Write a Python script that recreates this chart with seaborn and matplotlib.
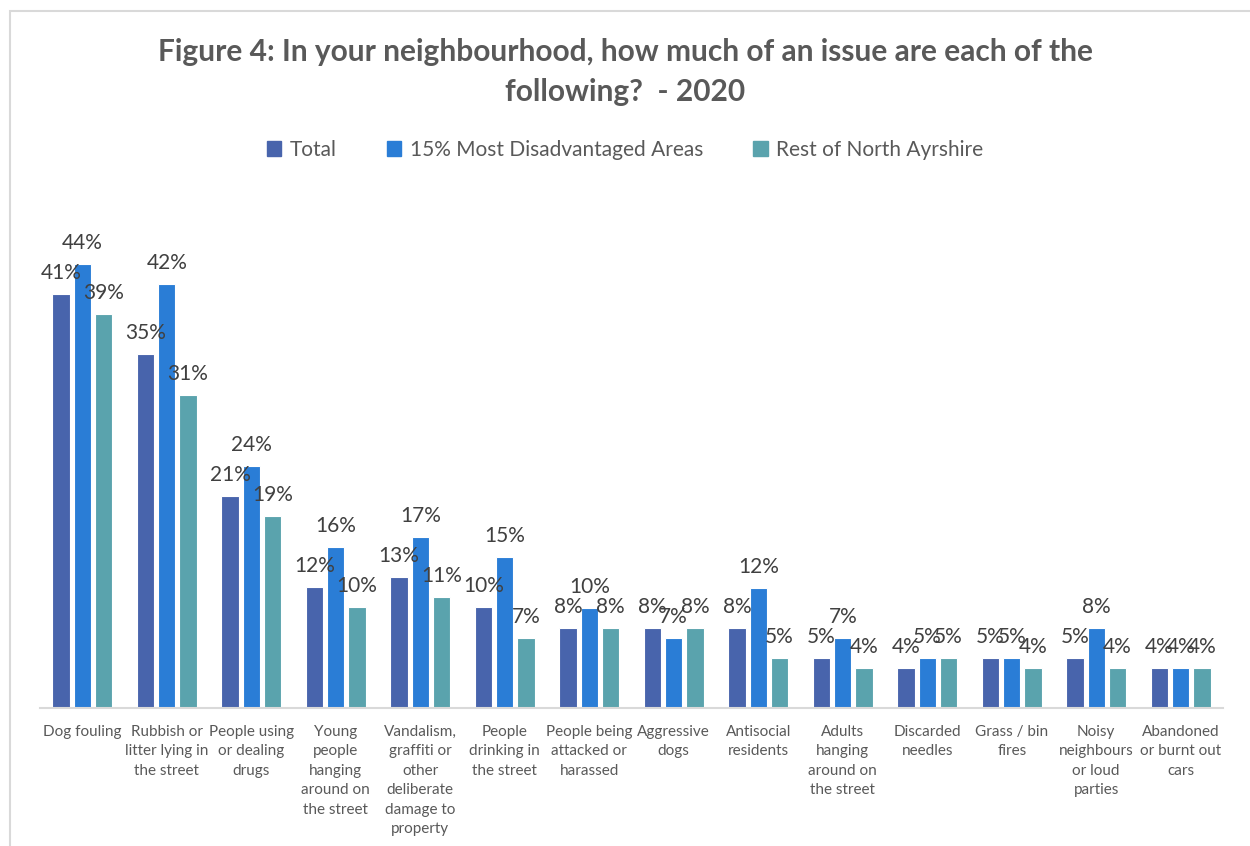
import pandas as pd
import matplotlib.pyplot as plt
import matplotlib.patches as mpatches
import seaborn as sns

categories = ["Dog fouling", "Rubbish or\nlitter lying in\nthe street", "People using\nor dealing\ndrugs",
              "Young\npeople\nhanging\naround on\nthe street",
              "Vandalism,\ngraffiti or\nother\ndeliberate\ndamage to\nproperty",
              "People\ndrinking in\nthe street", "People being\nattacked or\nharassed", "Aggressive\ndogs",
              "Antisocial\nresidents", "Adults\nhanging\naround on\nthe street", "Discarded\nneedles",
              "Grass / bin\nfires", "Noisy\nneighbours\nor loud\nparties", "Abandoned\nor burnt out\ncars"]
total = [41.4, 35.4, 21.2, 12.1, 13.1, 10.1, 8, 8, 8, 5, 4, 5, 5, 4]
most_disadv = [44.4, 42.4, 24.2, 16.1, 17.1, 15.1, 10, 7, 12, 7, 5, 5, 8, 4]
rest = [39.4, 31.3, 19.2, 10.1, 11.1, 7, 8, 8, 5, 4, 5, 4, 4, 4]
series = ["Total", "15% Most Disadvantaged Areas", "Rest of North Ayrshire"]
colors = ["#4864AC", "#2A7DD6", "#5AA3AD"]

rows = []
for i, c in enumerate(categories):
    for s, vals in zip(series, [total, most_disadv, rest]):
        rows.append({"Issue": c, "Group": s, "Value": vals[i]})
df = pd.DataFrame(rows)

sns.set_style("white")
plt.rcParams['font.family'] = ['Lato', 'DejaVu Sans']

fig = plt.figure(figsize=(12.5, 8.46), dpi=100)
ax = fig.add_axes([40/1250, 1-708/846, (1223-40)/1250, (708-200)/846])

sns.barplot(data=df, x="Issue", y="Value", hue="Group", palette=colors,
            order=categories, hue_order=series, width=0.75, gap=0.18, saturation=1,
            edgecolor="white", linewidth=0.8, ax=ax, legend=False)

for cont in ax.containers:
    labels = [f"{v:.0f}%" for v in cont.datavalues]
    ax.bar_label(cont, labels=labels, padding=8, fontsize=15, color="#404040")

ax.set_xlim(-0.5, 13.5)
ax.set_ylim(0, 50.8)
ax.set_xlabel("")
ax.set_ylabel("")
ax.set_yticks([])
for sp in ["top", "right", "left"]:
    ax.spines[sp].set_visible(False)
ax.spines["bottom"].set_color("#D9D9D9")
ax.spines["bottom"].set_linewidth(1.5)
ax.tick_params(axis="x", length=0, pad=12, labelsize=11, labelcolor="#595959")
for t in ax.get_xticklabels():
    t.set_linespacing(1.5)
    t.set_verticalalignment("top")

fig.text(0.5, 1-52/846, "Figure 4: In your neighbourhood, how much of an issue are each of the",
         ha="center", va="center", fontsize=21.5, fontweight="bold", color="#595959")
fig.text(0.5, 1-92/846, "following?  - 2020",
         ha="center", va="center", fontsize=21.5, fontweight="bold", color="#595959")

handles = [mpatches.Patch(color=c, label=s) for c, s in zip(colors, series)]
fig.legend(handles=handles, loc="center", bbox_to_anchor=(0.5, 1-150/846), ncol=3,
           frameon=False, fontsize=15, labelcolor="#595959", handlelength=0.7,
           handleheight=0.7, handletextpad=0.4, columnspacing=2.4)

frame = mpatches.Rectangle((10/1250, -0.1), 1.2, 1-11/846+0.1, transform=fig.transFigure,
                           fill=False, edgecolor="#D9D9D9", linewidth=1.5)
fig.patches.append(frame)

fig.savefig("out.png", dpi=100, facecolor="white")
